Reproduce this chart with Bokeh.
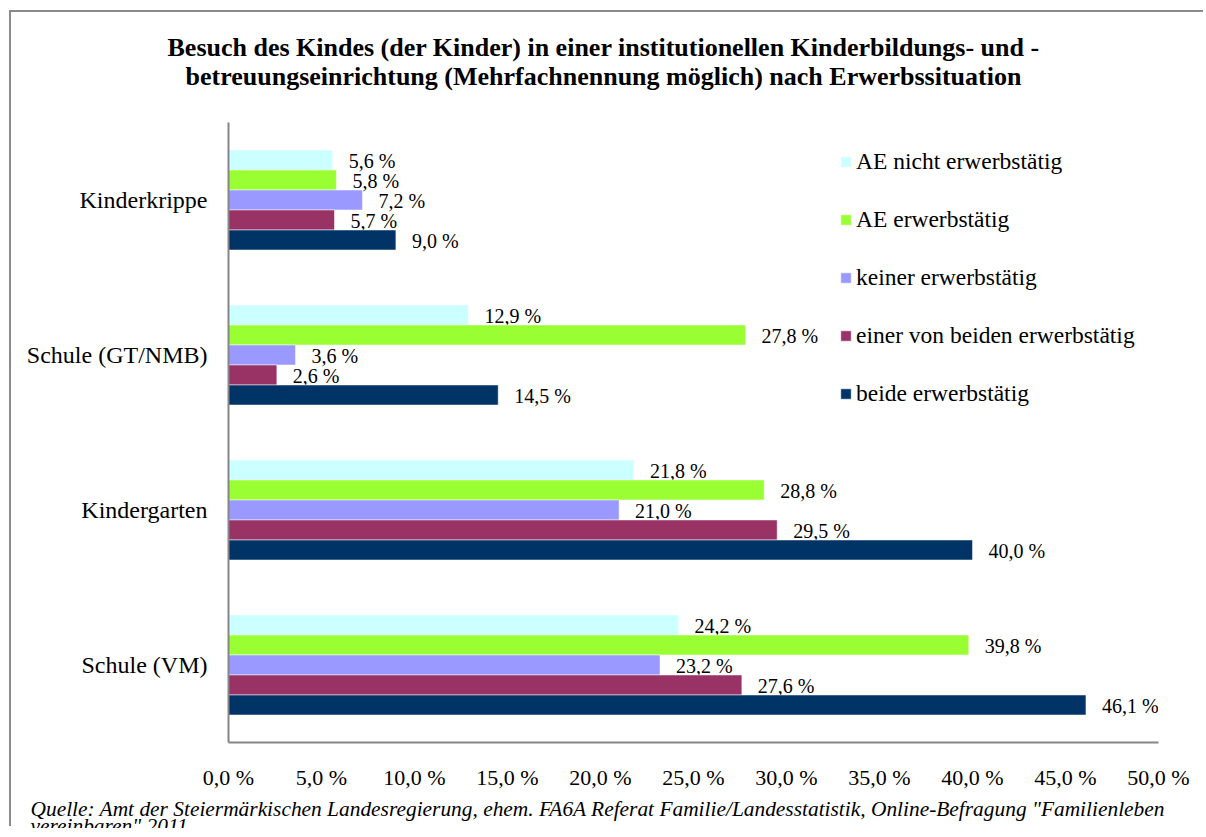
from bokeh.plotting import figure
from bokeh.models import (ColumnDataSource, FactorRange, Range1d, FixedTicker,
                          CustomJSTickFormatter, Legend, LegendItem, Title)
from bokeh.transform import dodge
from bokeh.core.properties import value
from bokeh.embed import file_html
from bokeh.resources import INLINE

categories = ["Kinderkrippe", "Schule (GT/NMB)", "Kindergarten", "Schule (VM)"]
series_names = ["AE nicht erwerbstätig", "AE erwerbstätig", "keiner erwerbstätig",
                "einer von beiden erwerbstätig", "beide erwerbstätig"]
ae_nicht_erwerbstaetig = [5.6, 12.9, 21.8, 24.2]
ae_erwerbstaetig = [5.8, 27.8, 28.8, 39.8]
keiner_erwerbstaetig = [7.2, 3.6, 21.0, 23.2]
einer_erwerbstaetig = [5.7, 2.6, 29.5, 27.6]
beide_erwerbstaetig = [9.0, 14.5, 40.0, 46.1]
series_values = [ae_nicht_erwerbstaetig, ae_erwerbstaetig, keiner_erwerbstaetig,
                 einer_erwerbstaetig, beide_erwerbstaetig]
colors = ["#CCFFFF", "#99FF33", "#9999FF", "#993366", "#003366"]
x_ticks = [0, 5, 10, 15, 20, 25, 30, 35, 40, 45, 50]

title_lines = ["Besuch des Kindes (der Kinder) in einer institutionellen Kinderbildungs- und -",
               "betreuungseinrichtung (Mehrfachnennung möglich) nach Erwerbssituation"]
footer_lines = ['Quelle: Amt der Steiermärkischen Landesregierung, ehem. FA6A Referat Familie/Landesstatistik, Online-Befragung "Familienleben',
                'vereinbaren" 2011.']

FONT = "Liberation Serif"
GRAY = "#868686"

p = figure(width=1194, height=816, output_backend="svg", toolbar_location=None,
           x_range=Range1d(0, 50),
           y_range=FactorRange(factors=list(reversed(categories)), range_padding=0),
           min_border_left=217, min_border_right=47, min_border_top=110, min_border_bottom=86)
p.outline_line_color = None
p.xgrid.visible = False
p.ygrid.visible = False
p.styles = {"margin-left": "11px", "margin-top": "12px",
            "box-shadow": "-2px -2px 0 0 #8a8a8a"}

bar_h = 0.129
renderers = []
for i, (name, vals, col) in enumerate(zip(series_names, series_values, colors)):
    off = (2 - i) * bar_h
    src = ColumnDataSource(dict(cat=categories, val=vals,
                                lab=[f"{v:.1f}".replace(".", ",") + " %" for v in vals]))
    r = p.hbar(y=dodge("cat", off, range=p.y_range), left=0, right="val", height=bar_h,
               fill_color=col, line_color="white", line_width=0.5, source=src)
    p.text(x="val", y=dodge("cat", off, range=p.y_range), text="lab", source=src,
           x_offset=16, y_offset=1, text_baseline="middle", text_align="left",
           text_font=value(FONT), text_font_size="20px", text_color="black")
    renderers.append(r)

for ax in (p.xaxis[0], p.yaxis[0]):
    ax.axis_line_color = GRAY
    ax.axis_line_width = 2
    ax.major_tick_line_color = None
    ax.minor_tick_line_color = None
    ax.major_tick_out = 0
    ax.major_tick_in = 0
    ax.major_label_text_font = FONT
    ax.major_label_text_color = "black"

p.xaxis.major_label_text_font_size = "22px"
p.yaxis.major_label_text_font_size = "24px"
p.xaxis.ticker = FixedTicker(ticks=x_ticks)
p.xaxis.formatter = CustomJSTickFormatter(code="return tick.toFixed(1).replace('.', ',') + ' %';")
p.xaxis.major_label_standoff = 22
p.yaxis.major_label_standoff = 21

legend = Legend(items=[LegendItem(label=n, renderers=[r]) for n, r in zip(series_names, renderers)],
                location=(611, 335), orientation="vertical", glyph_width=13, glyph_height=13,
                label_text_font=FONT, label_text_font_size="23.5px", label_text_color="black",
                label_standoff=4, spacing=31, padding=0, margin=0, border_line_color=None,
                background_fill_alpha=0)
p.add_layout(legend)

# title lines (added bottom line first; later titles stack further up)
p.add_layout(Title(text=title_lines[1], align="left", offset=-43, standoff=64,
                   text_font=FONT, text_font_size="26px", text_font_style="bold",
                   text_color="black"), "above")
p.add_layout(Title(text=title_lines[0], align="left", offset=-61, standoff=-68,
                   text_font=FONT, text_font_size="26px", text_font_style="bold",
                   text_color="black"), "above")

p.add_layout(Title(text=footer_lines[0], align="left", offset=-198, standoff=4,
                   text_font=FONT, text_font_size="21.4px", text_font_style="italic",
                   text_color="black"), "below")
p.add_layout(Title(text=footer_lines[1], align="left", offset=-198, standoff=-22,
                   text_font=FONT, text_font_size="21.4px", text_font_style="italic",
                   text_color="black"), "below")

open("out.html", "w").write(file_html(p, INLINE))
